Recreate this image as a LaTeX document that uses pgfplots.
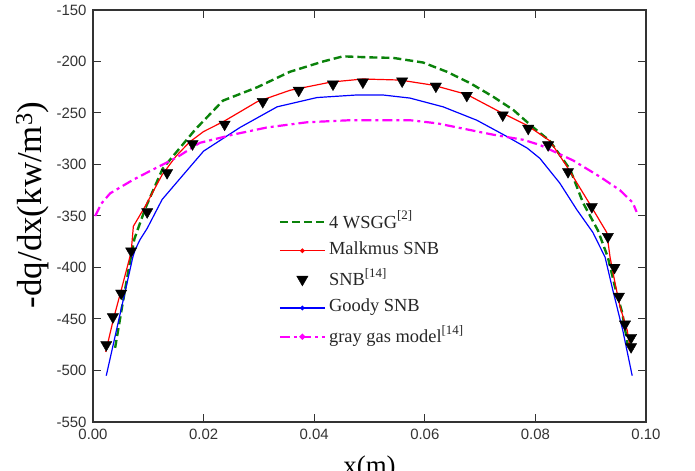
\documentclass[border=0pt]{standalone}
\usepackage{fontspec}
\setmainfont{Liberation Serif}
\newfontfamily\arialf{Liberation Sans}
\usepackage{pgfplots}
\pgfplotsset{compat=1.18}
\definecolor{wsgg}{RGB}{10,130,10}
\definecolor{graygas}{RGB}{255,0,255}
\definecolor{malk}{RGB}{255,0,0}
\definecolor{goody}{RGB}{0,0,255}
\newcommand\sups[1]{\raisebox{8.5bp}{\fontsize{13}{14}\selectfont[#1]}}
\pgfplotsset{
  dotleg/.style={legend image code/.code={\draw[##1] (0bp,0bp)--(45bp,0bp); \draw[##1, mark=*, mark size=#1, mark options={solid}] plot coordinates {(22.5bp,0bp)};}},
  lineleg/.style={legend image code/.code={\draw[mark repeat=2,mark phase=2,##1] plot coordinates {(0bp,0bp) (22.5bp,0bp) (45bp,0bp)};}},
}
\begin{document}
\begin{tikzpicture}
\begin{axis}[
  at={(0,0)}, anchor=south west,
  scale only axis, width=553bp, height=412bp,
  xmin=0, xmax=0.10, ymin=-550, ymax=-150,
  xtick={0,0.02,0.04,0.06,0.08,0.10},
  ytick={-550,-500,-450,-400,-350,-300,-250,-200,-150},
  scaled x ticks=false,
  tick align=inside, major tick length=8bp,
  /pgf/number format/assume math mode=true,
  xticklabel style={/pgf/number format/fixed,/pgf/number format/precision=2,/pgf/number format/fixed zerofill, yshift=-4bp},
  yticklabel style={xshift=-3bp},
  tick label style={font=\arialf\fontsize{15}{17}\selectfont, text=black!80},
  axis line style={line width=1.3bp, black!80},
  every tick/.style={line width=1bp, black!80},
  xlabel={x(m)},
  xlabel style={at={(axis description cs:0.5,-0.1286)}, anchor=base, font=\fontsize{27}{30}\selectfont},
  ylabel={-dq/dx(kw/m\textsuperscript{3})},
  ylabel style={at={(axis description cs:-0.094,0.527)}, anchor=base, font=\fontsize{35}{38}\selectfont},
  legend style={at={(axis cs:0.0330,-340)}, anchor=north west, draw=none, fill=none,
    font=\fontsize{18.5}{20}\selectfont, text=black!85, cells={anchor=west}, row sep=2.5bp,
    nodes={inner sep=3bp, text depth=5bp}},
  lineleg,
]
% 4 WSGG
\addplot[wsgg, line width=2.4bp, dash pattern=on 8bp off 4bp] coordinates {
(0.0040,-478) (0.0052,-440) (0.0065,-400) (0.0075,-372) (0.0095,-342)
(0.0126,-304) (0.0157,-284) (0.0185,-266) (0.0235,-238) (0.0297,-225)
(0.0356,-210) (0.0416,-200) (0.0452,-195) (0.0500,-196) (0.0543,-196.5)
(0.0597,-201) (0.0640,-210) (0.0682,-221) (0.0723,-234) (0.0760,-247)
(0.0796,-264) (0.0826,-277) (0.0863,-305) (0.0886,-337) (0.0913,-364)
(0.0931,-390) (0.0944,-419) (0.0957,-444) (0.0967,-475)
};
\addlegendentry{4 WSGG\sups{2}}
% Malkmus SNB
\addplot[malk, line width=1.2bp, dotleg=1.7bp] coordinates {
(0.0023,-482) (0.0037,-450) (0.0051,-422) (0.0069,-385) (0.0073,-360)
(0.0095,-340) (0.0125,-310) (0.0150,-292) (0.0175,-278) (0.0200,-268)
(0.0237,-258) (0.0297,-239) (0.0356,-228) (0.0430,-220) (0.0488,-217)
(0.0555,-218) (0.0615,-223) (0.0676,-232) (0.0736,-249) (0.0785,-262)
(0.0826,-277) (0.0857,-302) (0.0899,-339) (0.0929,-366) (0.0935,-390)
(0.0944,-415) (0.0953,-438) (0.0966,-461) (0.0972,-480)
};
\addlegendentry{Malkmus SNB}
% SNB [14]
\addplot[only marks, mark=triangle*, mark size=6.5bp, mark options={rotate=180, fill=black, draw=black}] coordinates {
(0.0024,-475) (0.0036,-448) (0.0051,-425) (0.0069,-384) (0.0098,-346)
(0.0134,-308) (0.0180,-280) (0.0238,-261) (0.0307,-239) (0.0372,-228)
(0.0434,-222) (0.0488,-220) (0.0559,-219) (0.0620,-224) (0.0676,-233)
(0.0741,-252) (0.0787,-265) (0.0823,-281) (0.0859,-307) (0.0902,-341)
(0.0931,-370) (0.0943,-400) (0.0951,-428) (0.0962,-455) (0.0973,-468)
(0.0973,-477)
};
\addlegendentry{SNB\sups{14}}
% Goody SNB
\addplot[goody, line width=1.2bp, dotleg=1.7bp] coordinates {
(0.0024,-505) (0.0072,-390) (0.0076,-383) (0.0085,-373) (0.0098,-362)
(0.0125,-334) (0.0160,-312) (0.0200,-287) (0.0266,-264) (0.0333,-244)
(0.0405,-235) (0.0477,-232.5) (0.0524,-232.5) (0.0573,-235.5) (0.0633,-244)
(0.0694,-257) (0.0749,-273) (0.0785,-284) (0.0808,-294) (0.0844,-318)
(0.0875,-344) (0.0904,-366) (0.0926,-390) (0.0940,-422) (0.0958,-461)
(0.0975,-505)
};
\addlegendentry{Goody SNB}
% gray gas model
\addplot[graygas, line width=2.2bp, dash pattern=on 10bp off 4bp on 3bp off 4bp, dotleg=1.7bp] coordinates {
(0.0004,-350) (0.0015,-338) (0.0031,-328) (0.0072,-315) (0.0108,-305)
(0.0152,-293) (0.0193,-279) (0.0253,-271) (0.0315,-264) (0.0387,-259)
(0.0465,-257) (0.0573,-257) (0.0622,-260) (0.0664,-264.6) (0.0723,-271)
(0.0778,-276) (0.0808,-281) (0.0868,-296) (0.0917,-312) (0.0953,-325)
(0.0976,-337) (0.0983,-346)
};
\addlegendentry{gray gas model\sups{14}}
\end{axis}
\pgfresetboundingbox
\path[use as bounding box] (-93bp,-49bp) rectangle (602bp,422bp);
\end{tikzpicture}
\end{document}
